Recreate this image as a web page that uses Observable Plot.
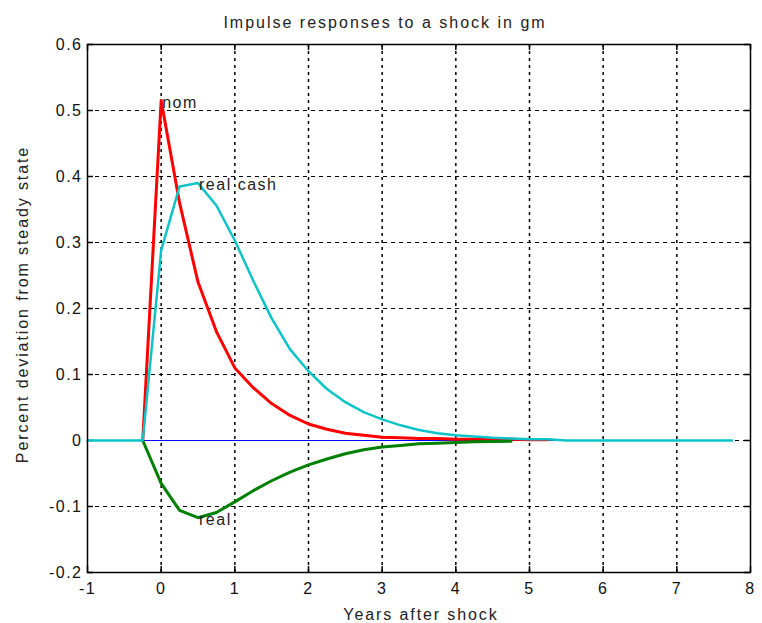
<!DOCTYPE html>
<html>
<head>
<meta charset="utf-8">
<script src="https://cdn.jsdelivr.net/npm/d3@7"></script>
<script src="https://cdn.jsdelivr.net/npm/@observablehq/plot@0.6"></script>
<style>
  html, body { margin: 0; padding: 0; background: #fff; }
  #chart svg { font-family: "Liberation Sans", Arial, sans-serif; }
</style>
</head>
<body>
<div id="chart"></div>
<script>
const titleText = "Impulse responses to a shock in gm";
const xLabel = "Years after shock";
const yLabel = "Percent deviation from steady state";

const xTicks = [-1, 0, 1, 2, 3, 4, 5, 6, 7, 8];
const yTicks = [-0.2, -0.1, 0, 0.1, 0.2, 0.3, 0.4, 0.5, 0.6];

const years = [-1, -0.75, -0.5, -0.25, 0, 0.25, 0.5, 0.75, 1, 1.25, 1.5, 1.75, 2, 2.25, 2.5, 2.75, 3, 3.25, 3.5, 3.75,
  4, 4.25, 4.5, 4.75, 5, 5.25, 5.5, 5.75, 6, 6.25, 6.5, 6.75, 7, 7.25, 7.5, 7.75];

const nom = [null, null, null, 0, 0.515, 0.36, 0.24, 0.165, 0.11, 0.08, 0.056, 0.038, 0.025, 0.017, 0.011, 0.008,
  0.005, 0.004, 0.003, 0.003, 0.002, 0.002, 0.002, 0.002, 0.001, 0.001,
  null, null, null, null, null, null, null, null, null, null];

const real = [null, null, null, 0, -0.065, -0.106, -0.117, -0.109, -0.093, -0.076, -0.061, -0.048, -0.037, -0.028,
  -0.020, -0.014, -0.010, -0.0075, -0.005, -0.004, -0.003, -0.002, -0.0015, -0.001,
  null, null, null, null, null, null, null, null, null, null, null, null];

const realCash = [0, 0, 0, 0, 0.288, 0.385, 0.39, 0.356, 0.303, 0.242, 0.185, 0.138, 0.105, 0.078, 0.058, 0.043,
  0.032, 0.023, 0.016, 0.011, 0.008, 0.006, 0.004, 0.003, 0.002, 0.002,
  0, 0, 0, 0, 0, 0, 0, 0, 0, 0];

const steady = years.map(() => 0);

const labelNames = ["nom", "real cash", "real"];
const labelX = [0, 0.5, 0.5];
const labelY = [0.515, 0.39, -0.117];

const rows = years.map((t, i) => ({t, nom: nom[i], real: real[i], cash: realCash[i], zero: steady[i]}));
const labels = labelNames.map((name, i) => ({name, x: labelX[i], y: labelY[i]}));

const W = 762, H = 623, mL = 87, mR = 12, mT = 44, mB = 51;
const fw = W - mL - mR, fh = H - mT - mB;
const textStyle = {fill: "#222", fontSize: 16};

const plot = Plot.plot({
  width: W,
  height: H,
  marginLeft: mL,
  marginRight: mR,
  marginTop: mT,
  marginBottom: mB,
  style: {fontSize: "16px", letterSpacing: "1.5px", background: "#fff", color: "#000"},
  x: {domain: [-1, 8]},
  y: {domain: [-0.2, 0.6]},
  marks: [
    Plot.gridX(xTicks.slice(1, -1), {stroke: "#000", strokeOpacity: 1, strokeWidth: 1.5, strokeDasharray: "3,4"}),
    Plot.gridY(yTicks.slice(1, -1), {stroke: "#000", strokeOpacity: 1, strokeWidth: 1, strokeDasharray: "4,4"}),
    Plot.tickX(xTicks, {x: d => d, stroke: "#000", strokeWidth: 1.5, insetTop: fh - 6}),
    Plot.tickX(xTicks, {x: d => d, stroke: "#000", strokeWidth: 1.5, insetBottom: fh - 6}),
    Plot.tickY(yTicks, {y: d => d, stroke: "#000", strokeWidth: 1.5, insetRight: fw - 6}),
    Plot.tickY(yTicks, {y: d => d, stroke: "#000", strokeWidth: 1.5, insetLeft: fw - 6}),
    Plot.axisX(xTicks, {tickSize: 0, tickPadding: 10, tickFormat: d => String(d), fontSize: 16, fill: "#111", label: null}),
    Plot.axisY(yTicks, {tickSize: 0, tickPadding: 5, tickFormat: d => String(d), fontSize: 16, fill: "#111", label: null}),
    Plot.line(rows, {x: "t", y: "zero", stroke: "#0000ff", strokeWidth: 1.2}),
    Plot.line(rows, {x: "t", y: "nom", stroke: "#ff0000", strokeWidth: 3, curve: "linear"}),
    Plot.line(rows, {x: "t", y: "real", stroke: "#008000", strokeWidth: 3, curve: "linear"}),
    Plot.line(rows, {x: "t", y: "cash", stroke: "#0cc4c8", strokeWidth: 2.5, curve: "linear"}),
    Plot.text(labels, {x: "x", y: "y", text: "name", textAnchor: "start", lineAnchor: "middle", dx: 1, dy: 2, ...textStyle}),
    Plot.text([titleText], {frameAnchor: "top", text: d => d, textAnchor: "middle", dx: -34, dy: -22, lineAnchor: "middle", ...textStyle, style: "letter-spacing:2px"}),
    Plot.text([xLabel], {frameAnchor: "bottom", text: d => d, textAnchor: "middle", dx: 2, dy: 42, lineAnchor: "middle", ...textStyle}),
    Plot.text([yLabel], {frameAnchor: "left", text: d => d, textAnchor: "middle", dx: -65, dy: -4, rotate: -90, lineAnchor: "middle", ...textStyle}),
    Plot.frame({stroke: "#000", strokeWidth: 1.5})
  ]
});
// title spacing slightly wider than other text
d3.select(plot).selectAll("text").filter(function() { return this.textContent === titleText; }).style("letter-spacing", "2px");
d3.select(plot).selectAll("text").filter(function() { return this.textContent === xLabel || this.textContent === yLabel; }).style("letter-spacing", "1.9px");
document.getElementById("chart").appendChild(plot);
</script>
</body>
</html>
